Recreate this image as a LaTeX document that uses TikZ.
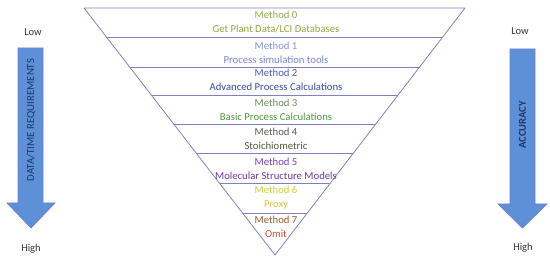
\documentclass[tikz,border=0pt]{standalone}
\usepackage{fontspec}
\setmainfont{Carlito}
\usetikzlibrary{calc}
\definecolor{triline}{HTML}{8080C0}
\definecolor{arrfill}{HTML}{5E90D8}
\definecolor{arrdraw}{HTML}{6F80CF}
\definecolor{arrtext}{HTML}{1F3864}
\definecolor{lowhigh}{HTML}{333333}
\definecolor{mA0}{HTML}{8FB04C}\definecolor{mB0}{HTML}{95A543}
\definecolor{mA1}{HTML}{8A93D6}\definecolor{mB1}{HTML}{7C83D0}
\definecolor{mA2}{HTML}{4A5BC0}\definecolor{mB2}{HTML}{3B49A8}
\definecolor{mA3}{HTML}{6E8A5A}\definecolor{mB3}{HTML}{4E9A3C}
\definecolor{mA4}{HTML}{5A5A50}\definecolor{mB4}{HTML}{505A3A}
\definecolor{mA5}{HTML}{7A3FB0}\definecolor{mB5}{HTML}{6A3AA8}
\definecolor{mA6}{HTML}{C8D42E}\definecolor{mB6}{HTML}{E0C040}
\definecolor{mA7}{HTML}{9A5A2E}\definecolor{mB7}{HTML}{C0503A}
\begin{document}
\begin{tikzpicture}[x=1pt,y=-1pt,
  tri/.style={draw=triline,line width=0.8pt},
  meth/.style={align=center,inner sep=0pt,font=\fontsize{10.7}{14}\selectfont},
  arrowbody/.style={fill=arrfill,draw=arrdraw,line width=0.7pt},
  arrlabel/.style={rotate=90,text=arrtext,font=\fontsize{10.8}{12}\selectfont},
  lh/.style={text=lowhigh,font=\fontsize{10.5}{12}\selectfont,inner sep=0pt}]
\useasboundingbox (0,0) rectangle (550,262);
% triangle
\coordinate (TL) at (84,8);
\coordinate (TR) at (465,8);
\coordinate (AP) at (275,255);
\draw[tri,line join=round] (TL) -- (TR) -- (AP) -- cycle;
\foreach \y in {37,67,95,124,153,183,213}{
  \pgfmathsetmacro\f{(\y-8)/247}
  \draw[tri] ($(TL)!\f!(AP)$) -- ($(TR)!\f!(AP)$);
}
% method labels
\node[meth] (m0) at (276,22) {{\color{mA0}Method 0}\\{\color{mB0}Get Plant Data/LCI Databases}};
\node[meth] (m1) at (276,53) {{\color{mA1}Method 1}\\{\color{mB1}Process simulation tools}};
\node[meth] (m2) at (276,80) {{\color{mA2}Method 2}\\{\color{mB2}Advanced Process Calculations}};
\node[meth] (m3) at (276,109.5) {{\color{mA3}Method 3}\\{\color{mB3}Basic Process Calculations}};
\node[meth] (m4) at (276,138.5) {{\color{mA4}Method 4}\\{\color{mB4}Stoichiometric}};
\node[meth] (m5) at (276,168.5) {{\color{mA5}Method 5}\\{\color{mB5}Molecular Structure Models}};
\node[meth] (m6) at (276,198) {{\color{mA6}Method 6}\\{\color{mB6}Proxy}};
\node[meth] (m7) at (276,227) {{\color{mA7}Method 7}\\{\color{mB7}Omit}};
% left arrow
\draw[arrowbody] (18,48) -- (43,48) -- (43,203) -- (55,203) -- (31,228) -- (7,203) -- (18,203) -- cycle;
\node[arrlabel] (la) at (31,120) {DATA/TIME REQUIREMENTS};
\node[lh] (llow) at (33,32) {Low};
\node[lh] (lhigh) at (31,249) {High};
% right arrow
\draw[arrowbody] (510,49) -- (535,49) -- (535,204) -- (547,204) -- (522.5,228) -- (498,204) -- (510,204) -- cycle;
\node[arrlabel,font=\fontsize{10.5}{12}\selectfont\bfseries] (ra) at (522.5,125) {ACCURACY};
\node[lh] (rlow) at (520,31) {Low};
\node[lh] (rhigh) at (523,248) {High};
\end{tikzpicture}
\end{document}
